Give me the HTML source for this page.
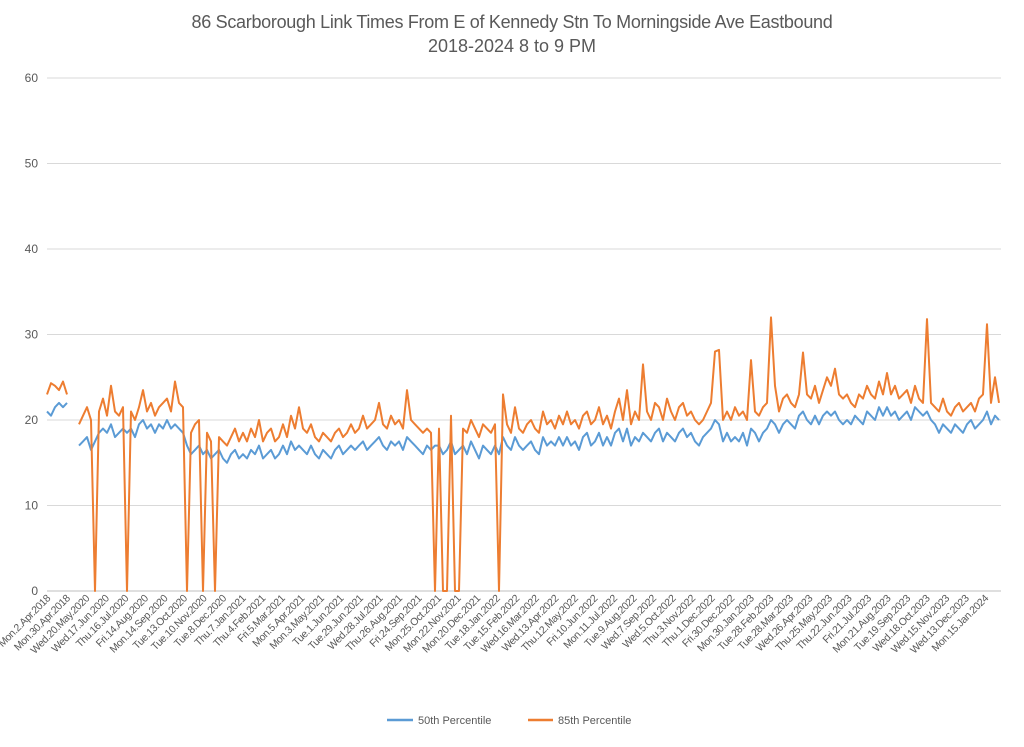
<!DOCTYPE html>
<html><head><meta charset="utf-8"><style>
body{margin:0;background:#fff;}
svg text{font-family:"Liberation Sans",sans-serif;fill:#595959;}
</style></head><body>
<svg id="chart" width="1024" height="742" viewBox="0 0 1024 742">
<text x="512" y="28" text-anchor="middle" font-size="18" letter-spacing="-0.3">86 Scarborough Link Times From E of Kennedy Stn To Morningside Ave Eastbound</text>
<text x="512" y="52" text-anchor="middle" font-size="18">2018-2024 8 to 9 PM</text>
<g id="grid"></g><g id="xlabels"></g><g id="series"></g>
<g>
<line x1="387" y1="720" x2="413" y2="720" stroke="#5b9bd5" stroke-width="2.5"/>
<text x="418" y="724" font-size="11">50th Percentile</text>
<line x1="528" y1="720" x2="553" y2="720" stroke="#ed7d31" stroke-width="2.5"/>
<text x="558" y="724" font-size="11">85th Percentile</text>
</g>
</svg>
<script>
const yTicks=[0,10,20,30,40,50,60];
const tickLabels=["Mon.2.Apr.2018","Mon.30.Apr.2018","Wed.20.May.2020","Wed.17.Jun.2020","Thu.16.Jul.2020","Fri.14.Aug.2020","Mon.14.Sep.2020","Tue.13.Oct.2020","Tue.10.Nov.2020","Tue.8.Dec.2020","Thu.7.Jan.2021","Thu.4.Feb.2021","Fri.5.Mar.2021","Mon.5.Apr.2021","Mon.3.May.2021","Tue.1.Jun.2021","Tue.29.Jun.2021","Wed.28.Jul.2021","Thu.26.Aug.2021","Fri.24.Sep.2021","Mon.25.Oct.2021","Mon.22.Nov.2021","Mon.20.Dec.2021","Tue.18.Jan.2022","Tue.15.Feb.2022","Wed.16.Mar.2022","Wed.13.Apr.2022","Thu.12.May.2022","Fri.10.Jun.2022","Mon.11.Jul.2022","Tue.9.Aug.2022","Wed.7.Sep.2022","Wed.5.Oct.2022","Thu.3.Nov.2022","Thu.1.Dec.2022","Fri.30.Dec.2022","Mon.30.Jan.2023","Tue.28.Feb.2023","Tue.28.Mar.2023","Wed.26.Apr.2023","Thu.25.May.2023","Thu.22.Jun.2023","Fri.21.Jul.2023","Mon.21.Aug.2023","Tue.19.Sep.2023","Wed.18.Oct.2023","Wed.15.Nov.2023","Wed.13.Dec.2023","Mon.15.Jan.2024"];
const p85=[23,24.3,24,23.5,24.5,23,null,null,19.5,20.5,
21.5,20,0,21,22.5,20.5,24,21,20.5,21.5,
0,21,20,21.5,23.5,21,22,20.5,21.5,22,
22.5,21,24.5,22,21.5,0,18.5,19.5,20,0,
18.5,17.5,0,18,17.5,17,18,19,17.5,18.5,
17.5,19,18,20,17.5,18.5,19,17.5,18,19.5,
18,20.5,19,21.5,19,18.5,19.5,18,17.5,18.5,
18,17.5,18.5,19,18,18.5,19.5,18.5,19,20.5,
19,19.5,20,22,19.5,19,20.5,19.5,20,19,
23.5,20,19.5,19,18.5,19,18.5,0,19,0,
0,20.5,0,0,19,18.5,20,19,18,19.5,
19,18.5,19.5,0,23,19.5,18.5,21.5,19,18.5,
19.5,20,19,18.5,21,19.5,20,19,20.5,19.5,
21,19.5,20,19,20.5,21,19.5,20,21.5,19.5,
20.5,19,21,22.5,20,23.5,19.5,21,20,26.5,
21,20,22,21.5,20,22.5,21,20,21.5,22,
20.5,21,20,19.5,20,21,22,28,28.2,20,
21,20,21.5,20.5,21,20,27,21,20.5,21.5,
22,32,24,21,22.5,23,22,21.5,23,27.9,
23,22.5,24,22,23.5,25,24,26,23,22.5,
23,22,21.5,23,22.5,24,23,22.5,24.5,23,
25.5,23,24,22.5,23,23.5,22,24,22.5,22,
31.8,22,21.5,21,22.5,21,20.5,21.5,22,21,
21.5,22,21,22.5,23,31.2,22,25,22];
const p50=[21,20.5,21.5,22,21.5,22,null,null,17,17.5,
18,16.5,17.5,18.5,19,18.5,19.5,18,18.5,19,
18.5,19,18,19.5,20,19,19.5,18.5,19.5,19,
20,19,19.5,19,18.5,17,16,16.5,17,16,
16.5,15.5,16,16.5,15.5,15,16,16.5,15.5,16,
15.5,16.5,16,17,15.5,16,16.5,15.5,16,17,
16,17.5,16.5,17,16.5,16,17,16,15.5,16.5,
16,15.5,16.5,17,16,16.5,17,16.5,17,17.5,
16.5,17,17.5,18,17,16.5,17.5,17,17.5,16.5,
18,17.5,17,16.5,16,17,16.5,17,17,16,
16.5,17.5,16,16.5,17,16,17.5,16.5,15.5,17,
16.5,16,17,16,18,17,16.5,18,17,16.5,
17,17.5,16.5,16,18,17,17.5,17,18,17,
18,17,17.5,16.5,18,18.5,17,17.5,18.5,17,
18,17,18.5,19,17.5,19,17,18,17.5,18.5,
18,17.5,18.5,19,17.5,18.5,18,17.5,18.5,19,
18,18.5,17.5,17,18,18.5,19,20,19.5,17.5,
18.5,17.5,18,17.5,18.5,17,19,18.5,17.5,18.5,
19,20,19.5,18.5,19.5,20,19.5,19,20.5,21,
20,19.5,20.5,19.5,20.5,21,20.5,21,20,19.5,
20,19.5,20.5,20,19.5,21,20.5,20,21.5,20.5,
21.5,20.5,21,20,20.5,21,20,21.5,21,20.5,
21,20,19.5,18.5,19.5,19,18.5,19.5,19,18.5,
19.5,20,19,19.5,20,21,19.5,20.5,20];

const NS="http://www.w3.org/2000/svg";
const X0=47,X1=1001,Y0=591,Y60=78;
const y=v=>Y0-(v/60)*(Y0-Y60);
const xData=i=>X0+i*(X1-X0-2)/(p85.length-1);
const xTick=j=>X0+j*(985-X0)/(tickLabels.length-1);
function mk(tag,attrs,parent){const e=document.createElementNS(NS,tag);for(const k in attrs)e.setAttribute(k,attrs[k]);parent.appendChild(e);return e;}
const grid=document.getElementById('grid');
yTicks.forEach(t=>{
  const l=mk('line',{x1:X0,x2:X1,y1:y(t),y2:y(t),stroke:t===0?'#bfbfbf':'#d9d9d9','stroke-width':1},grid);
  
  
  const tx=mk('text',{x:38,y:y(t)+4,'text-anchor':'end','font-size':12},grid);
  tx.textContent=t;
  
  
});
const xl=document.getElementById('xlabels');
tickLabels.forEach((s,j)=>{
  const x=xTick(j);
  const t=mk('text',{x:x+4,y:599,'text-anchor':'end','font-size':10.5,'letter-spacing':-0.4,transform:`rotate(-45 ${x+4} 599)`},xl);
  t.textContent=s;
  
  
});
function pathFor(arr){let d='',pen=false;arr.forEach((v,i)=>{if(v===null){pen=false;return;}d+=(pen?'L':'M')+xData(i).toFixed(1)+' '+y(v).toFixed(1);pen=true;});return d;}
const sg=document.getElementById('series');
const s50=mk('path',{d:pathFor(p50),fill:'none',stroke:'#5b9bd5','stroke-width':2,'stroke-linejoin':'round'},sg);


const s85=mk('path',{d:pathFor(p85),fill:'none',stroke:'#ed7d31','stroke-width':2,'stroke-linejoin':'round'},sg);


</script>
</body></html>
